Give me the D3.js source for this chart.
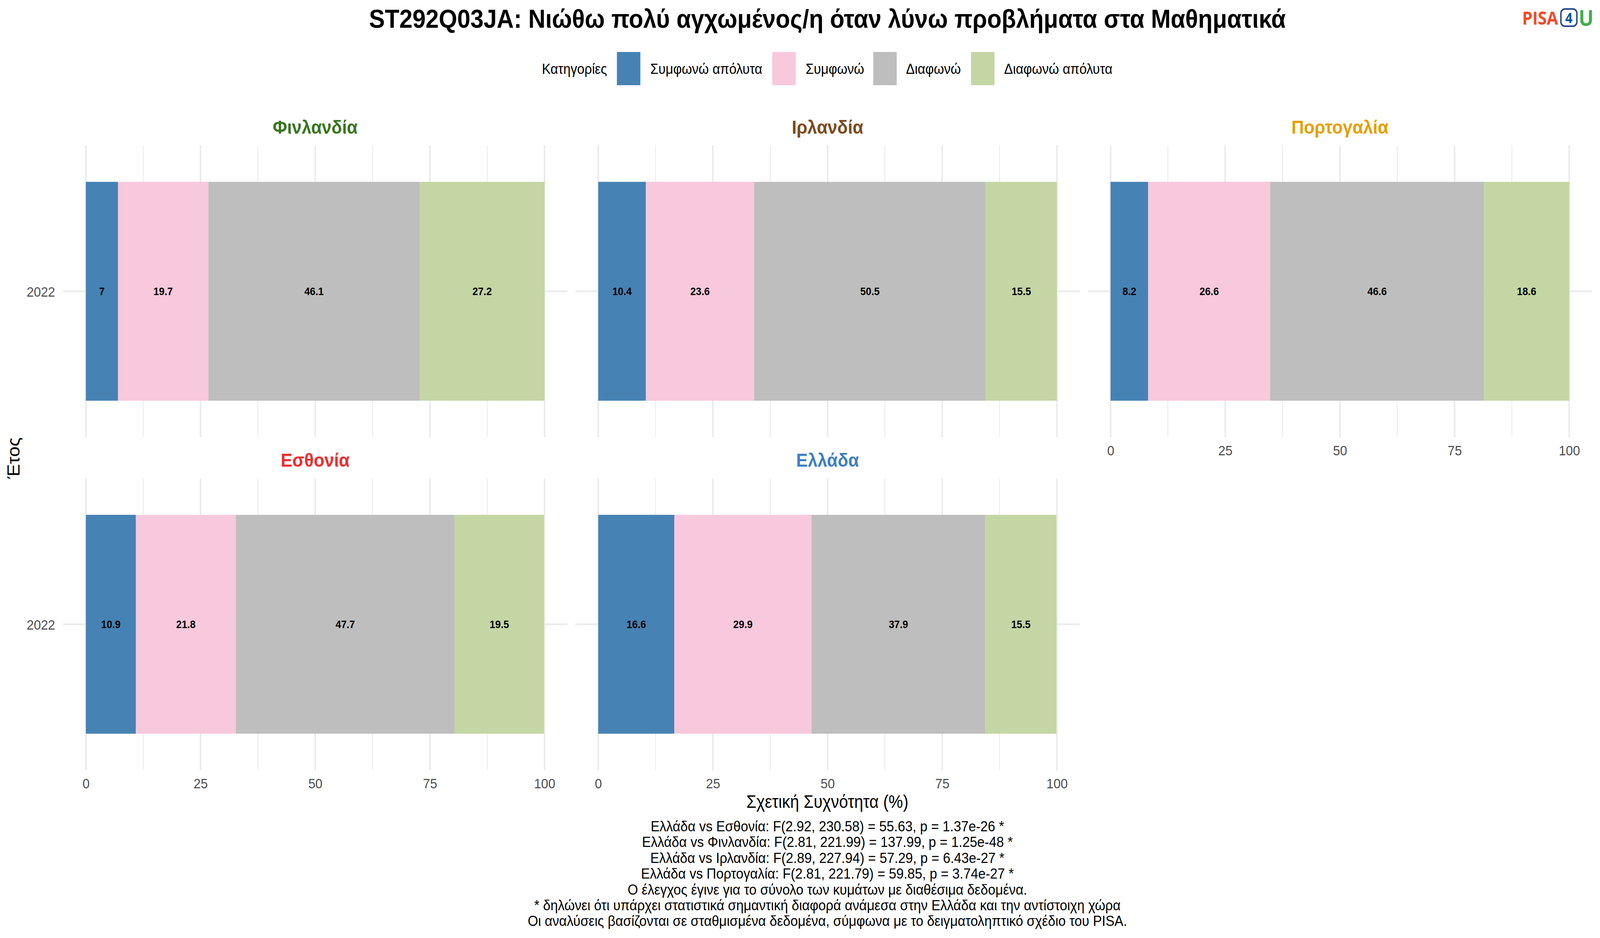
<!DOCTYPE html>
<html lang="el">
<head>
<meta charset="utf-8">
<script src="https://cdnjs.cloudflare.com/ajax/libs/d3/7.9.0/d3.min.js"></script>
<style>
html,body{margin:0;padding:0;background:#fff;overflow:hidden}
svg{display:block;width:100vw;height:100vh}
text{font-family:"Liberation Sans",Arial,sans-serif}
</style>
</head>
<body>
<svg id="chart" viewBox="0 0 4500 2400" preserveAspectRatio="none"></svg>
<script>
// ---------- data ----------
const categories = ["Συμφωνώ απόλυτα", "Συμφωνώ", "Διαφωνώ", "Διαφωνώ απόλυτα"];
const years = ["2022"];
const countries = ["Φινλανδία", "Ιρλανδία", "Πορτογαλία", "Εσθονία", "Ελλάδα"];
const finland  = [7, 19.7, 46.1, 27.2];
const ireland  = [10.4, 23.6, 50.5, 15.5];
const portugal = [8.2, 26.6, 46.6, 18.6];
const estonia  = [10.9, 21.8, 47.7, 19.5];
const greece   = [16.6, 29.9, 37.9, 15.5];
const seriesValues = [finland, ireland, portugal, estonia, greece];
const xTicks = [0, 25, 50, 75, 100];
const xMinorTicks = [12.5, 37.5, 62.5, 87.5];
const titleText = "ST292Q03JA: Νιώθω πολύ αγχωμένος/η όταν λύνω προβλήματα στα Μαθηματικά";
const legendTitle = "Κατηγορίες";
const xTitle = "Σχετική Συχνότητα (%)";
const yTitle = "Έτος";
const footnotes = [
  "Ελλάδα vs Εσθονία: F(2.92, 230.58) = 55.63, p = 1.37e-26 *",
  "Ελλάδα vs Φινλανδία: F(2.81, 221.99) = 137.99, p = 1.25e-48 *",
  "Ελλάδα vs Ιρλανδία: F(2.89, 227.94) = 57.29, p = 6.43e-27 *",
  "Ελλάδα vs Πορτογαλία: F(2.81, 221.79) = 59.85, p = 3.74e-27 *",
  "Ο έλεγχος έγινε για το σύνολο των κυμάτων με διαθέσιμα δεδομένα.",
  "* δηλώνει ότι υπάρχει στατιστικά σημαντική διαφορά ανάμεσα στην Ελλάδα και την αντίστοιχη χώρα",
  "Οι αναλύσεις βασίζονται σε σταθμισμένα δεδομένα, σύμφωνα με το δειγματοληπτικό σχέδιο του PISA."
];

// ---------- styles ----------
const catColors = ["#4682B4", "#F8C8DC", "#BEBEBE", "#C3D6A4"];
const stripColors = ["#38761D", "#7B4A1B", "#E69F00", "#EE2C2C", "#3F7FBF"];
const gridColor = "#EBEBEB";
const tickColor = "#4D4D4D";
const fontStack = '"Liberation Sans",Arial,sans-serif';

// ---------- layout (in a 4500x2400 viewBox fitted to the window) ----------
const svg = d3.select("#chart");
const colX = [177, 1618, 3059];
const rowY = [372, 1224];
const panelW = 1419, panelH = 746.5, barH = 560;

const panels = countries.map((name, i) => ({
  name, values: seriesValues[i], color: stripColors[i],
  col: i % 3, row: Math.floor(i / 3),
  showX: i >= 2, showY: i % 3 === 0
}));

const x = d3.scaleLinear().domain([0, 100]).range([64.5, panelW - 64.5]);
const y = d3.scalePoint().domain(years).range([0, panelH]).padding(0.5);
const stack = d3.stack().keys(d3.range(categories.length));

panels.forEach(p => {
  const g = svg.append("g").attr("transform", `translate(${colX[p.col]},${rowY[p.row]})`);

  g.selectAll("line.minor").data(xMinorTicks).join("line").attr("class", "minor")
    .attr("x1", d => x(d)).attr("x2", d => x(d)).attr("y1", 0).attr("y2", panelH)
    .attr("stroke", gridColor).attr("stroke-width", 2.4);
  g.selectAll("line.major").data(xTicks).join("line").attr("class", "major")
    .attr("x1", d => x(d)).attr("x2", d => x(d)).attr("y1", 0).attr("y2", panelH)
    .attr("stroke", gridColor).attr("stroke-width", 4.6);
  g.selectAll("line.hmajor").data(years).join("line").attr("class", "hmajor")
    .attr("x1", 0).attr("x2", panelW).attr("y1", d => y(d)).attr("y2", d => y(d))
    .attr("stroke", gridColor).attr("stroke-width", 4.4);

  const layers = stack([Object.assign({}, p.values)]);
  years.forEach(yr => {
    const cy = y(yr);
    g.selectAll("rect.seg").data(layers).join("rect").attr("class", "seg")
      .attr("x", d => x(d[0][0])).attr("width", d => x(d[0][1]) - x(d[0][0]))
      .attr("y", cy - barH / 2).attr("height", barH)
      .attr("fill", (d, i) => catColors[i]);
    g.selectAll("text.val").data(layers).join("text").attr("class", "val")
      .attr("x", d => x((d[0][0] + d[0][1]) / 2)).attr("y", cy).attr("dy", "0.35em")
      .attr("text-anchor", "middle").attr("font-size", 28).attr("font-weight", "bold")
      .attr("fill", "#000").text((d, i) => p.values[i]);
  });

  if (p.showX) {
    const ax = g.append("g").attr("transform", `translate(0,${panelH})`)
      .call(d3.axisBottom(x).tickValues(xTicks).tickSize(0).tickPadding(21).tickFormat(d3.format("d")));
    ax.select(".domain").remove();
    ax.selectAll("text").attr("font-size", 36).attr("fill", tickColor).style("font-family", fontStack);
  }
  if (p.showY) {
    const ay = g.append("g").call(d3.axisLeft(y).tickSize(0).tickPadding(22));
    ay.select(".domain").remove();
    ay.selectAll("text").attr("font-size", 36).attr("dy", "0.36em").attr("fill", tickColor).style("font-family", fontStack);
  }

  g.append("text").attr("x", panelW / 2).attr("y", -30)
    .attr("text-anchor", "middle").attr("font-size", 49).attr("font-weight", "bold")
    .attr("fill", p.color).text(p.name);
});

// title
svg.append("text").attr("x", 2327).attr("y", 71).attr("text-anchor", "middle")
  .attr("font-size", 66.6).attr("font-weight", "bold").attr("fill", "#000").text(titleText);

// legend
const legendKeyX = [1735, 2172, 2456, 2731];
const legendLabelX = [1829, 2266, 2548, 2824];
svg.append("text").attr("x", 1524).attr("y", 189).attr("font-size", 37).attr("fill", "#000").text(legendTitle);
svg.selectAll("rect.key").data(categories).join("rect").attr("class", "key")
  .attr("x", (d, i) => legendKeyX[i]).attr("y", 133).attr("width", 66).attr("height", 85)
  .attr("fill", (d, i) => catColors[i]);
svg.selectAll("text.keylab").data(categories).join("text").attr("class", "keylab")
  .attr("x", (d, i) => legendLabelX[i]).attr("y", 189).attr("font-size", 37).attr("fill", "#000").text(d => d);

// axis titles
svg.append("text").attr("x", 2327).attr("y", 2067).attr("text-anchor", "middle")
  .attr("font-size", 45.5).attr("fill", "#000").text(xTitle);
svg.append("text").attr("transform", "translate(55,1172) rotate(-90)").attr("text-anchor", "middle")
  .attr("font-size", 48).attr("fill", "#000").text(yTitle);

// footnotes
svg.selectAll("text.foot").data(footnotes).join("text").attr("class", "foot")
  .attr("x", 2327).attr("y", (d, i) => 2127 + i * 40.4).attr("text-anchor", "middle")
  .attr("font-size", 37.5).attr("fill", "#000").text(d => d);

// logo
const logo = svg.append("g");
logo.append("text").attr("x", 4281).attr("y", 63).attr("font-size", 46).attr("font-weight", "bold")
  .style("font-family", '"Open Sans",sans-serif').attr("fill", "#F24A26").text("PISA");
logo.append("rect").attr("x", 4390).attr("y", 23).attr("width", 45).attr("height", 44).attr("rx", 11)
  .attr("fill", "#fff").attr("stroke", "#27458F").attr("stroke-width", 4);
logo.append("text").attr("x", 4412.5).attr("y", 59).attr("text-anchor", "middle").attr("font-size", 36)
  .attr("font-weight", "bold").style("font-family", '"Open Sans",sans-serif').attr("fill", "#00549A").text("4");
logo.append("text").attr("x", 4440).attr("y", 66).attr("font-size", 56).attr("font-weight", "bold")
  .style("font-family", '"Open Sans",sans-serif').attr("fill", "#43AE4C").text("U");
</script>
</body>
</html>
